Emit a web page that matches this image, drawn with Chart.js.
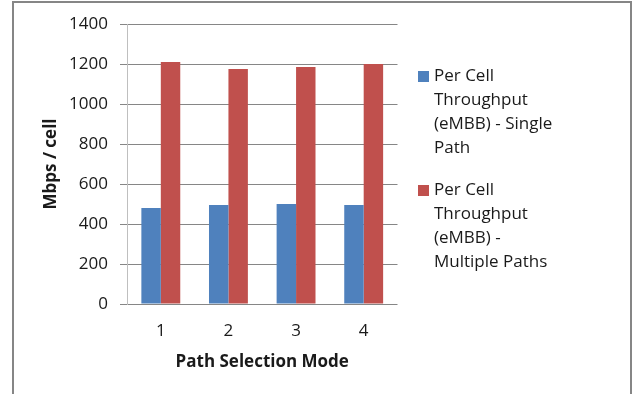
<!DOCTYPE html>
<html>
<head>
<meta charset="utf-8">
<script src="https://cdn.jsdelivr.net/npm/chart.js@4/dist/chart.umd.min.js"></script>
<style>
  html, body { margin: 0; padding: 0; background: #fff; }
  #wrap { position: relative; width: 639px; height: 394px; }
  canvas { display: block; }
</style>
</head>
<body>
<div id="wrap"><canvas id="c" width="639" height="394"></canvas></div>
<script>
const categories = ['1', '2', '3', '4'];
const singlePath = [480, 495, 500, 495];
const multiplePaths = [1210, 1175, 1185, 1200];
const seriesNames = ['Per Cell Throughput (eMBB) - Single Path', 'Per Cell Throughput (eMBB) - Multiple Paths'];
const legendLines = [
  ['Per Cell', 'Throughput', '(eMBB) - Single', 'Path'],
  ['Per Cell', 'Throughput', '(eMBB) -', 'Multiple Paths']
];
const yTitle = 'Mbps / cell';
const xTitle = 'Path Selection Mode';
const colors = ['#4F81BD', '#C0504D'];

const FONT = "'Open Sans', 'Noto Sans', sans-serif";
const TEXT = '#1a1a1a';

const frameAndLegend = {
  id: 'frameAndLegend',
  afterDraw(chart) {
    const ctx = chart.ctx;
    ctx.save();
    ctx.strokeStyle = '#868686';
    ctx.lineWidth = 2;
    ctx.beginPath();
    ctx.moveTo(13, 394);
    ctx.lineTo(13, 2);
    ctx.lineTo(631, 2);
    ctx.lineTo(631, 394);
    ctx.stroke();
    ctx.font = '17px ' + FONT;
    ctx.textBaseline = 'middle';
    ctx.textAlign = 'left';
    const starts = [76, 190];
    chart.data.datasets.forEach((ds, i) => {
      const y0 = starts[i];
      ctx.fillStyle = ds.backgroundColor;
      ctx.fillRect(418, y0 - 5, 11, 11);
      ctx.fillStyle = TEXT;
      legendLines[i].forEach((ln, j) => {
        ctx.fillText(ln, 434, y0 + j * 24);
      });
    });
    ctx.restore();
  }
};

new Chart(document.getElementById('c'), {
  type: 'bar',
  data: {
    labels: categories,
    datasets: [
      { label: seriesNames[0], data: singlePath, backgroundColor: colors[0], borderWidth: 0 },
      { label: seriesNames[1], data: multiplePaths, backgroundColor: colors[1], borderWidth: 0 }
    ]
  },
  options: {
    responsive: false,
    animation: false,
    devicePixelRatio: 1,
    layout: { padding: { left: 0, right: 241.5, top: 24, bottom: 0 } },
    datasets: { bar: { categoryPercentage: 0.575, barPercentage: 1 } },
    plugins: { legend: { display: false }, tooltip: { enabled: false } },
    scales: {
      x: {
        grid: { display: false, drawTicks: false },
        border: { display: false },
        ticks: { color: TEXT, font: { family: FONT, size: 17 }, padding: 17 },
        title: { display: true, text: xTitle, color: TEXT, font: { family: FONT, size: 17, weight: 'bold' }, padding: { top: 22, bottom: 22 } },
        afterFit(scale) { scale.height = 90; }
      },
      y: {
        min: 0, max: 1400,
        ticks: { stepSize: 200, color: TEXT, font: { family: FONT, size: 17 }, padding: 12, callback: (v) => String(v) },
        grid: { color: '#868686', lineWidth: 1, tickLength: 7 },
        border: { display: true, color: '#bfbfbf', width: 1 },
        title: { display: true, text: yTitle, color: TEXT, font: { family: FONT, size: 17, weight: 'bold' }, padding: { top: 41, bottom: 10 } },
        afterFit(scale) { scale.width = 127; }
      }
    }
  },
  plugins: [frameAndLegend]
});
</script>
</body>
</html>
